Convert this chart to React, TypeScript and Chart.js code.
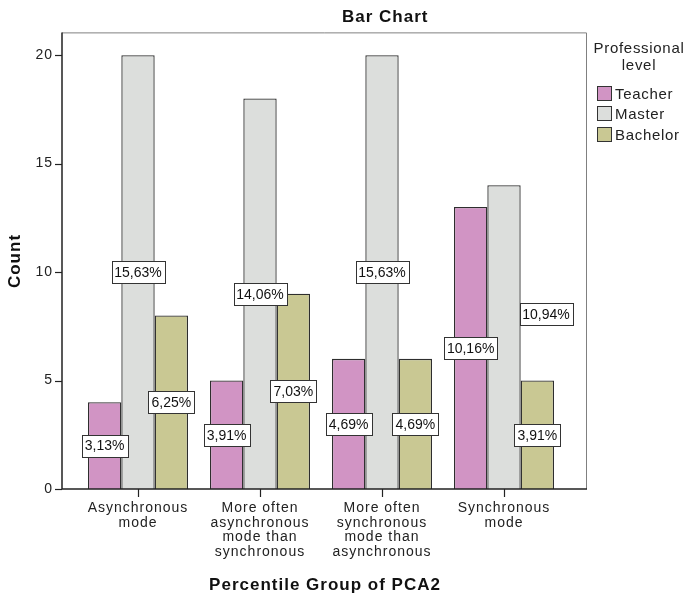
import React, { useEffect, useRef } from "react";
import { Chart, registerables } from "chart.js";

Chart.register(...registerables);

const categories: string[][] = [
  ["Asynchronous", "mode"],
  ["More often", "asynchronous", "mode than", "synchronous"],
  ["More often", "synchronous", "mode than", "asynchronous"],
  ["Synchronous", "mode"],
];
const seriesNames = ["Teacher", "Master", "Bachelor"];
const teacherCounts = [4, 5, 6, 13];
const masterCounts = [20, 18, 20, 14];
const bachelorCounts = [8, 9, 6, 5];
const teacherPct = ["3,13%", "3,91%", "4,69%", "10,16%"];
const masterPct = ["15,63%", "14,06%", "15,63%", "10,94%"];
const bachelorPct = ["6,25%", "7,03%", "4,69%", "3,91%"];
const yTicks = [0, 5, 10, 15, 20];
const colors = ["#D194C4", "#DCDEDC", "#C9C893"];

const FONT = "'Liberation Sans', Arial, sans-serif";

const decorPlugin = {
  id: "decor",
  beforeDraw(chart: any) {
    (chart.ctx as any).letterSpacing = "1px";
  },
  afterDatasetsDraw(chart: any) {
    const ctx = chart.ctx;
    const ca = chart.chartArea;
    const xs = chart.scales.x;
    const ys = chart.scales.y;
    const fl = ca.left - 15;
    const fr = ca.right + 21;
    const ft = ca.top;
    const fb = ca.bottom;
    ctx.save();
    // frame
    ctx.strokeStyle = "#808080";
    ctx.lineWidth = 1;
    ctx.beginPath();
    ctx.moveTo(fl, ft + 0.5);
    ctx.lineTo(fr + 0.5, ft + 0.5);
    ctx.lineTo(fr + 0.5, fb);
    ctx.stroke();
    ctx.strokeStyle = "#222";
    ctx.lineWidth = 1.5;
    ctx.beginPath();
    ctx.moveTo(fl, ft);
    ctx.lineTo(fl, fb);
    ctx.lineTo(fr + 1, fb);
    ctx.stroke();
    // y ticks
    ctx.lineWidth = 1.2;
    yTicks.forEach((v) => {
      const y = Math.round(ys.getPixelForValue(v)) + 0.5;
      ctx.beginPath();
      ctx.moveTo(fl - 7, y);
      ctx.lineTo(fl, y);
      ctx.stroke();
    });
    // x ticks
    categories.forEach((_, i) => {
      const x = Math.round(xs.getPixelForValue(i)) + 0.5;
      ctx.beginPath();
      ctx.moveTo(x, fb);
      ctx.lineTo(x, fb + 8);
      ctx.stroke();
    });
    // data labels
    const pcts = [teacherPct, masterPct, bachelorPct];
    (ctx as any).letterSpacing = "0px";
    ctx.font = `14px ${FONT}`;
    ctx.textAlign = "center";
    ctx.textBaseline = "middle";
    chart.data.datasets.forEach((ds: any, di: number) => {
      const meta = chart.getDatasetMeta(di);
      meta.data.forEach((bar: any, i: number) => {
        const v = ds.data[i];
        let x = bar.x;
        let y = ys.getPixelForValue(v / 2);
        // nudge a label that would collide with its neighbour
        if (di === 1 && i === 3) {
          x += 42;
          y -= 23;
        }
        const t = pcts[di][i];
        const w = Math.round(ctx.measureText(t).width + 6);
        const h = 22;
        const bx = Math.round(x - w / 2) + 0.5;
        const by = Math.round(y - h / 2) + 0.5;
        ctx.fillStyle = "#fff";
        ctx.fillRect(bx, by, w, h);
        ctx.strokeStyle = "#333";
        ctx.lineWidth = 1;
        ctx.strokeRect(bx, by, w, h);
        ctx.fillStyle = "#111";
        ctx.fillText(t, x, y + 1);
      });
    });
    // titles
    (ctx as any).letterSpacing = "1px";
    ctx.fillStyle = "#111";
    ctx.font = `bold 17px ${FONT}`;
    ctx.textAlign = "left";
    ctx.fillText("Bar Chart", 342, 17);
    ctx.textAlign = "center";
    ctx.fillText("Percentile Group of PCA2", 325, 585);
    ctx.save();
    ctx.translate(15, 261);
    ctx.rotate(-Math.PI / 2);
    ctx.fillText("Count", 0, 0);
    ctx.restore();
    // legend
    (ctx as any).letterSpacing = "0.7px";
    ctx.font = `15px ${FONT}`;
    ctx.fillStyle = "#222";
    ctx.fillText("Professional", 639, 49);
    ctx.fillText("level", 639, 66);
    const ly = [94, 114, 135];
    seriesNames.forEach((n, i) => {
      ctx.fillStyle = colors[i];
      ctx.fillRect(597.5, ly[i] - 7.5, 14, 14);
      ctx.strokeStyle = "#333";
      ctx.lineWidth = 1;
      ctx.strokeRect(597.5, ly[i] - 7.5, 14, 14);
      ctx.fillStyle = "#222";
      ctx.textAlign = "left";
      ctx.fillText(n, 615, ly[i] + 1);
    });
    ctx.restore();
  },
  afterDraw(chart: any) {
    (chart.ctx as any).letterSpacing = "0px";
  },
};

export default function App() {
  const ref = useRef<HTMLCanvasElement>(null);
  useEffect(() => {
    if (!ref.current) return;
    const counts = [teacherCounts, masterCounts, bachelorCounts];
    const chart = new Chart(ref.current, {
      type: "bar",
      data: {
        labels: categories,
        datasets: seriesNames.map((n, i) => ({
          label: n,
          data: counts[i],
          backgroundColor: colors[i],
          borderColor: "#2e2e2e",
          borderWidth: 1.3,
          categoryPercentage: 0.82,
          barPercentage: 1,
        })),
      },
      options: {
        animation: false,
        responsive: false,
        maintainAspectRatio: false,
        devicePixelRatio: 1,
        layout: { padding: { top: 32, right: 121, left: 0, bottom: 0 } },
        plugins: {
          legend: { display: false },
          title: { display: false },
          tooltip: { enabled: false },
        },
        scales: {
          x: {
            grid: { display: false, drawTicks: false },
            border: { display: false },
            ticks: {
              color: "#222",
              font: { family: FONT, size: 14, lineHeight: 1.04 },
              padding: 12,
              maxRotation: 0,
              autoSkip: false,
            },
            afterFit: (s: any) => {
              s.height = 107;
            },
          },
          y: {
            min: 0,
            max: 21.05,
            grid: { display: false, drawTicks: false },
            border: { display: false },
            afterBuildTicks: (s: any) => {
              s.ticks = yTicks.map((v) => ({ value: v }));
            },
            ticks: {
              color: "#222",
              font: { family: FONT, size: 14 },
              padding: 24,
            },
            afterFit: (s: any) => {
              s.width = 77;
            },
          },
        },
      },
      plugins: [decorPlugin],
    });
    return () => chart.destroy();
  }, []);
  return (
    <div style={{ position: "fixed", left: 0, top: 0, width: 686, height: 596, background: "#fff" }}>
      <canvas ref={ref} width={686} height={596} style={{ width: 686, height: 596 }} />
    </div>
  );
}
